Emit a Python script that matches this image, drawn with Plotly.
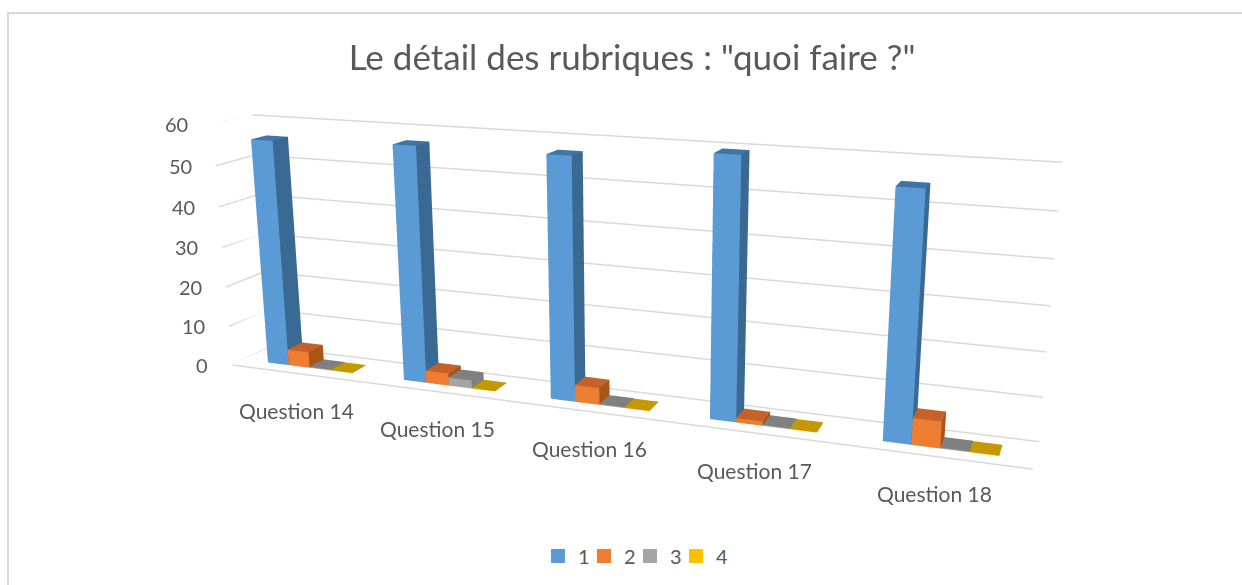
import plotly.graph_objects as go

categories = ["Question 14", "Question 15", "Question 16", "Question 17", "Question 18"]
series_names = ["1", "2", "3", "4"]
series_1 = [56, 57, 57, 59.5, 55]
series_2 = [4, 3, 4, 1, 6]
series_3 = [0.2, 2, 0.2, 0.2, 0.2]
series_4 = [0.1, 0.1, 0.1, 0.1, 0.1]
series_values = [series_1, series_2, series_3, series_4]
face_colors = ["#5B9BD5", "#ED7D31", "#A5A5A5", "#FFC000"]
side_colors = ["#3A6A94", "#A85518", "#7F7F7F", "#BC8F00"]
top_colors = ["#3F74A5", "#C4622A", "#808080", "#C59800"]
z_ticks = [0, 10, 20, 30, 40, 50, 60]

FIG_W, FIG_H, SHIFT_Y = 1282, 1140, 282
K = 1.0
BAR_W = 0.157
GAP = 0.186


def px(x):
    return x / FIG_W


def py(y):
    return 1 - (y + SHIFT_Y) / FIG_H


def bar_mesh(x0, x1, y0, y1, h, front, side, top):
    xs = [x0, x1, x1, x0, x0, x1, x1, x0]
    ys = [y0, y0, y1, y1, y0, y0, y1, y1]
    zs = [0, 0, 0, 0, h, h, h, h]
    i = [0, 0, 4, 4, 1, 1, 0, 0, 3, 3, 0, 0]
    j = [1, 2, 5, 6, 2, 6, 1, 5, 2, 6, 3, 7]
    k = [2, 3, 6, 7, 6, 5, 5, 4, 6, 7, 7, 4]
    fc = [side, side, top, top, side, side, front, front, side, side, side, side]
    return go.Mesh3d(x=xs, y=ys, z=zs, i=i, j=j, k=k, facecolor=fc, flatshading=True,
                     lighting=dict(ambient=1, diffuse=0, specular=0, fresnel=0),
                     hoverinfo="skip", showlegend=False)


fig = go.Figure()
n = len(categories)
grid = dict(color="#D9D9D9", width=3)
for t in z_ticks:
    fig.add_trace(go.Scatter3d(x=[-0.5, -0.5, n - 0.5], y=[0, 1, 1], z=[t, t, t], mode="lines",
                               line=grid, hoverinfo="skip", showlegend=False))
fig.add_trace(go.Scatter3d(x=[-0.5, n - 0.5], y=[0, 0], z=[0, 0], mode="lines",
                           line=grid, hoverinfo="skip", showlegend=False))

for c in range(n):
    for s, vals in enumerate(series_values):
        x0 = c - 0.5 + GAP + s * BAR_W
        fig.add_trace(bar_mesh(x0, x0 + BAR_W, 0.3, 0.7, vals[c], face_colors[s], side_colors[s], top_colors[s]))

for s, name in enumerate(series_names):
    fig.add_trace(go.Scatter(x=[None], y=[None], mode="markers", name=name,
                             marker=dict(symbol="square", size=14, color=face_colors[s])))
# blank spacer so the narrow last legend entry is not clipped
fig.add_trace(go.Scatter(x=[None], y=[None], mode="markers", name=" ",
                         marker=dict(symbol="square", size=14, color="rgba(0,0,0,0)")))

annotations = [dict(x=-0.5, y=0, z=t, text=str(t), showarrow=False, xanchor="right", xshift=-22,
                    font=dict(size=20, color="#595959", family="Lato")) for t in z_ticks]
annotations += [dict(x=c, y=0, z=0, text=categories[c], showarrow=False, yshift=-37, xshift=-2,
                     font=dict(size=21, color="#595959", family="Lato")) for c in range(n)]

hidden = dict(visible=False, showgrid=False, zeroline=False, showticklabels=False)
fig.update_layout(
    width=FIG_W, height=FIG_H,
    margin=dict(l=0, r=0, t=0, b=0),
    paper_bgcolor="white", plot_bgcolor="white",
    font=dict(family="Lato, Noto Sans, sans-serif", color="#595959"),
    xaxis=dict(visible=False, domain=[0, 0.01]), yaxis=dict(visible=False, domain=[0, 0.01]),
    title=dict(text='Le détail des rubriques : "quoi faire ?"', x=px(632), y=py(58), xanchor="center", yanchor="middle",
               xref="paper", yref="paper", font=dict(size=35, color="#595959")),
    legend=dict(orientation="h", x=px(538), y=py(556), xanchor="left", yanchor="middle",
                font=dict(size=20, color="#595959"), itemsizing="trace",
                entrywidth=1, entrywidthmode="pixels"),
    scene=dict(
        xaxis=dict(hidden, range=[-0.5, n - 0.5]),
        yaxis=dict(hidden, range=[0, 1]),
        zaxis=dict(hidden, range=[0, 60]),
        aspectmode="manual", aspectratio=dict(x=1.76 * K, y=0.145 * K, z=0.55 * K),
        camera=dict(eye=dict(x=1.008 * K, y=-2.5425 * K, z=0.725 * K),
                    center=dict(x=0.0744 * K, y=0.0205 * K, z=-0.0275 * K),
                    up=dict(x=0, y=0, z=1), projection=dict(type="perspective")),
        domain=dict(x=[0, 1], y=[0, 1]),
        annotations=annotations,
    ),
    shapes=[dict(type="rect", xref="paper", yref="paper", x0=px(8), x1=1, y0=py(700), y1=py(13),
                 line=dict(color="#D9D9D9", width=2), fillcolor="rgba(0,0,0,0)")],
)
post = ("var g=document.getElementById('{plot_id}');g.style.marginTop='-%dpx';"
        "document.body.style.margin='0';"
        "document.documentElement.style.overflow='hidden';document.body.style.overflow='hidden';" % SHIFT_Y)
fig.write_html("out.html", post_script=post)
